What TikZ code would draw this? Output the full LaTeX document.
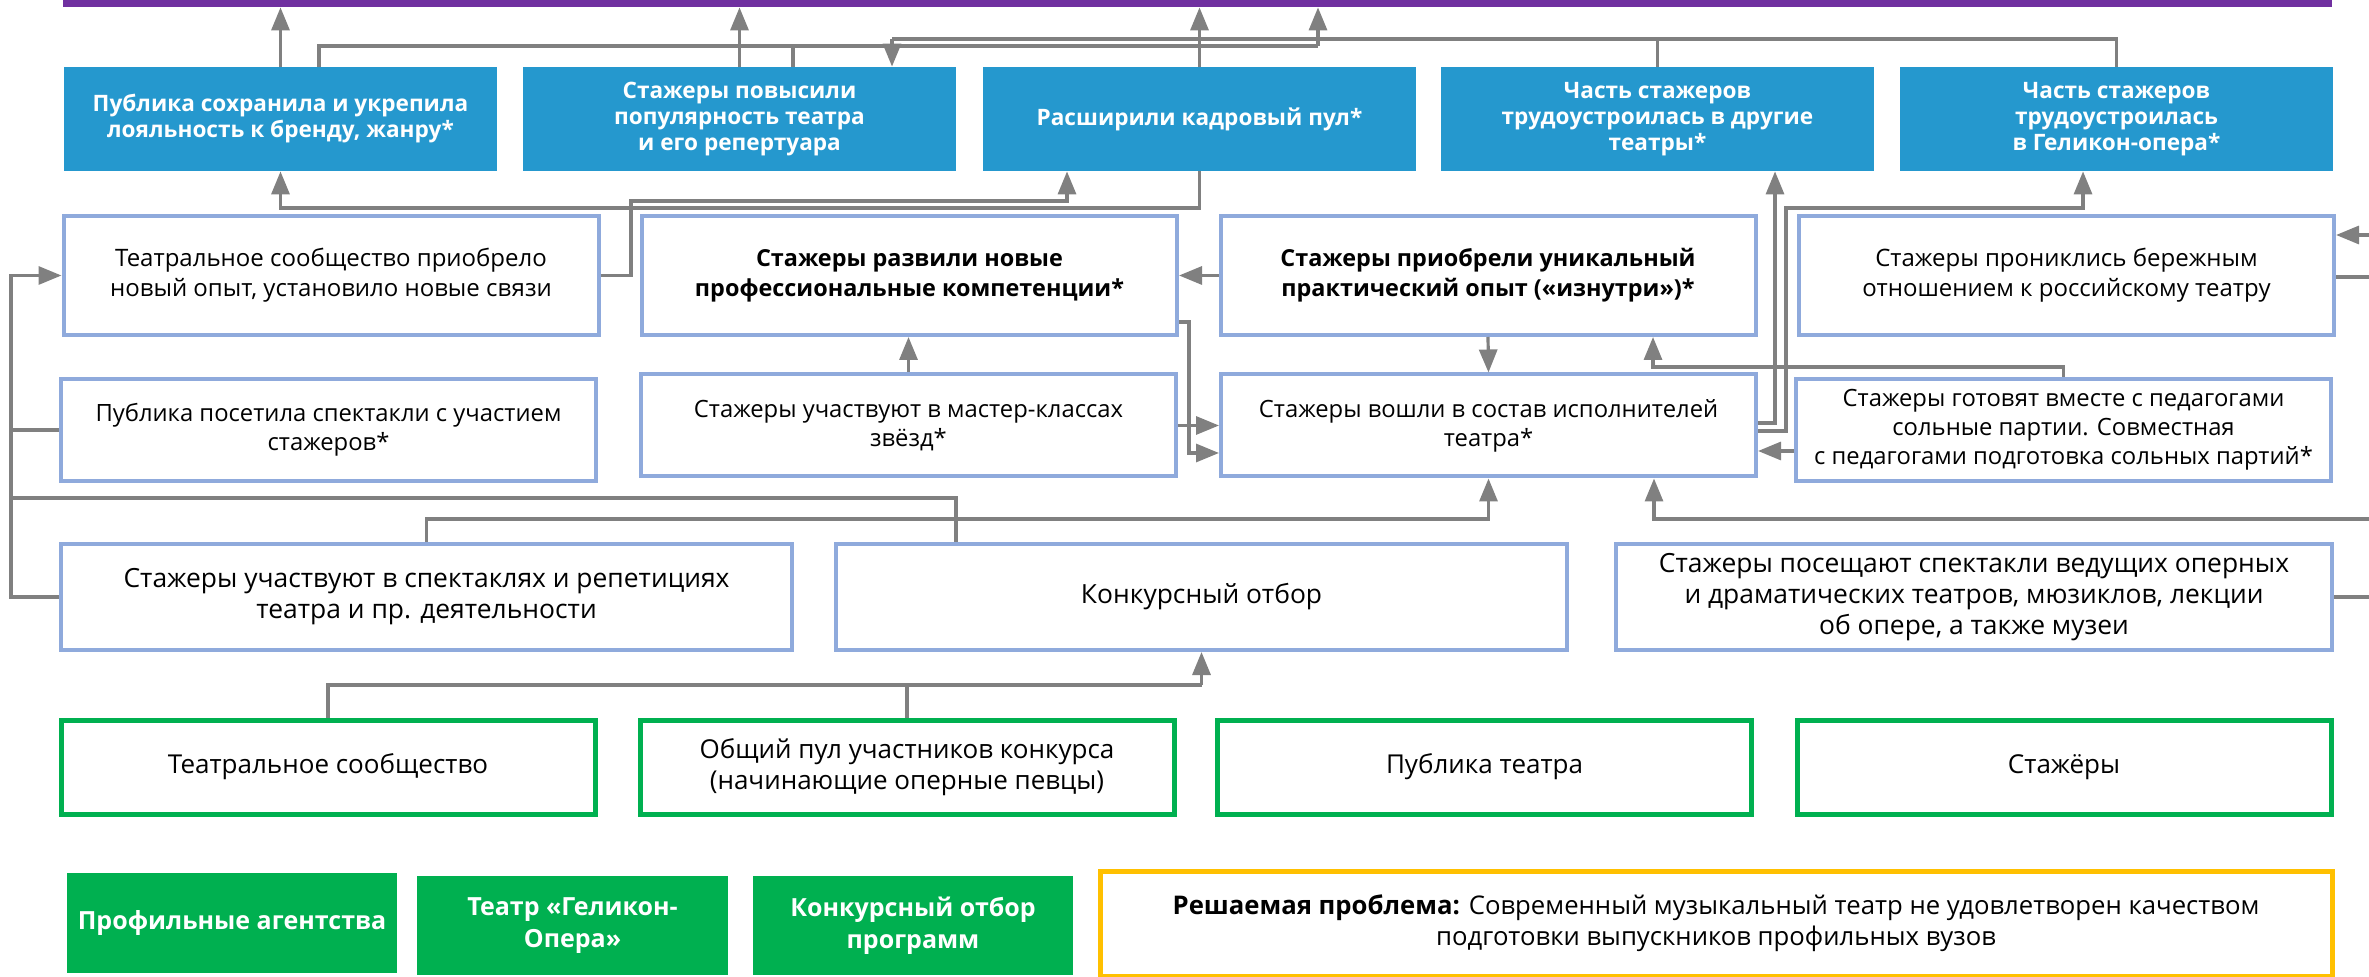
\documentclass[tikz,border=0pt]{standalone}
\usepackage{fontspec}
\setmainfont{Open Sans}
\usetikzlibrary{arrows.meta}
\definecolor{purp}{HTML}{7030A0}
\definecolor{bluef}{HTML}{2598CE}
\definecolor{blueb}{HTML}{8FAADC}
\definecolor{greenc}{HTML}{00B050}
\definecolor{yel}{HTML}{FFC000}
\definecolor{arr}{HTML}{808080}
\tikzset{
  bbox/.style={fill=bluef, text=white, font=\fontsize{11.3}{13}\selectfont\bfseries, align=center,
     minimum width=216.5pt, minimum height=52pt, inner sep=0pt},
  obox/.style={draw=blueb, line width=2pt, fill=white, align=center, inner sep=0pt,
     font=\fontsize{12}{15}\selectfont},
  gbox/.style={draw=greenc, line width=2.5pt, fill=white, align=center, inner sep=0pt,
     minimum width=267pt, minimum height=47pt, font=\fontsize{13}{15.5}\selectfont},
  gfill/.style={fill=greenc, text=white, align=center, inner sep=0pt,
     font=\fontsize{12.5}{16}\selectfont\bfseries},
  link/.style={draw=arr, line width=1.6pt},
  arrow/.style={link, -{Triangle[length=11.5pt,width=9pt]}},
}
\begin{document}
\begin{tikzpicture}[x=0.5pt,y=-0.5pt]
\useasboundingbox (0,0) rectangle (2369,977);
% goal bar
\node[fill=purp, minimum width=1134.5pt, minimum height=3.5pt, inner sep=0pt] (goal) at (1197.5,3.5) {};
% blue results
\node[bbox] (b1) at (280.5,119) {Публика сохранила и укрепила\\лояльность к бренду, жанру*};
\node[bbox] (b2) at (739.5,119) {Стажеры повысили\\популярность театра\\и его репертуара};
\node[bbox] (b3) at (1199.5,119) {Расширили кадровый пул*};
\node[bbox] (b4) at (1657.5,119) {Часть стажеров\\трудоустроилась в другие\\театры*};
\node[bbox] (b5) at (2116.5,119) {Часть стажеров\\трудоустроилась\\в Геликон-опера*};
% row 2
\tikzset{r2/.style={obox, minimum width=267.5pt, minimum height=59.5pt}}
\node[r2] (r2a) at (331,275.5) {Театральное сообщество приобрело\\новый опыт, установило новые связи};
\node[r2, font=\fontsize{11.7}{15}\selectfont\bfseries] (r2b) at (909.5,275.5) {Стажеры развили новые\\профессиональные компетенции*};
\node[r2, font=\fontsize{11.7}{15}\selectfont\bfseries] (r2c) at (1488,275.5) {Стажеры приобрели уникальный\\практический опыт («изнутри»)*};
\node[r2] (r2d) at (2066.5,275.5) {Стажеры прониклись бережным\\отношением к российскому театру};
% row 3
\tikzset{r3/.style={obox, minimum width=267.5pt, minimum height=51pt, font=\fontsize{11.9}{14.5}\selectfont}}
\node[r3] (r3a) at (328.5,430) {Публика посетила спектакли с участием\\стажеров*};
\node[r3] (r3b) at (908.5,425.5) {Стажеры участвуют в мастер-классах\\звёзд*};
\node[r3] (r3c) at (1488.5,425.5) {Стажеры вошли в состав исполнителей\\театра*};
\node[r3] (r3d) at (2063.5,430) {Стажеры готовят вместе с педагогами\\сольные партии. Совместная\\с педагогами подготовка сольных партий*};
% row 4
\tikzset{r4/.style={obox, minimum height=53pt, font=\fontsize{13.2}{15.5}\selectfont}}
\node[r4, minimum width=365.5pt] (r4a) at (426.5,597) {Стажеры участвуют в спектаклях и репетициях\\театра и пр. деятельности};
\node[r4, minimum width=365.5pt] (r4b) at (1201.5,597) {Конкурсный отбор};
\node[r4, minimum width=358pt] (r4c) at (1974,597) {Стажеры посещают спектакли ведущих оперных\\и драматических театров, мюзиклов, лекции\\об опере, а также музеи};
% row 5
\node[gbox] (r5a) at (328,767) {Театральное сообщество};
\node[gbox] (r5b) at (907,767) {Общий пул участников конкурса\\(начинающие оперные певцы)};
\node[gbox] (r5c) at (1484.5,767) {Публика театра};
\node[gbox] (r5d) at (2064,767) {Стажёры};
% row 6
\node[gfill, minimum width=165pt, minimum height=50pt] (g1) at (232,923) {Профильные агентства};
\node[gfill, minimum width=155.5pt, minimum height=49.5pt] (g2) at (572.5,925.5) {Театр «Геликон-\\Опера»};
\node[gfill, minimum width=160pt, minimum height=49.5pt] (g3) at (913,925.5) {Конкурсный отбор\\программ};
\node[draw=yel, line width=2.5pt, fill=white, align=center, inner sep=0pt, minimum width=616pt, minimum height=52.5pt,
  font=\fontsize{12.85}{15.5}\selectfont] (yb) at (1716,923.5)
  {\textbf{Решаемая проблема:} Современный музыкальный театр не удовлетворен качеством\\подготовки выпускников профильных вузов};
% helper coordinates
\coordinate (jA) at (1318,46);
\coordinate (jB) at (892,39);
\coordinate (h208) at (0,208);
\coordinate (k1) at (631,201);
\coordinate (L) at (11,0);
\coordinate (h498) at (0,498);
\coordinate (h519) at (0,519);
\coordinate (h453) at (0,453);
\coordinate (h367) at (0,367);
\coordinate (h451) at (0,451);
\coordinate (h423) at (0,423);
\coordinate (h431) at (0,431);
\coordinate (h685) at (0,685);
\coordinate (v1189) at (1189,0);
\coordinate (x1653) at (1653,0);
\coordinate (x1775) at (1775,0);
\coordinate (x1786) at (1786,0);
\coordinate (x2083) at (2083,0);
\coordinate (E1) at (2369,519);
\coordinate (E2) at (2369,235);
\coordinate (E3) at (2369,277);
\coordinate (E4) at (2369,597);
\coordinate (b1t) at ([xshift=19.25pt]b1.north);
\coordinate (b2t) at ([xshift=26.75pt]b2.north);
\coordinate (b3s) at ([xshift=-66.25pt]b3.south);
\coordinate (r4bt) at ([xshift=-122.75pt]r4b.north);
\coordinate (r3cs) at ([xshift=82.75pt]r3c.south);
\coordinate (r2bp) at ([yshift=7.5pt]r2b.south east);
% connectors top
\draw[arrow] (b1.north) -- (b1.north |- goal.south);
\draw[arrow] (b2.north) -- (b2.north |- goal.south);
\draw[arrow] (b3.north) -- (b3.north |- goal.south);
\draw[link] (b1t) |- (jA);
\draw[link] (b2t) -- (b2t |- jA);
\draw[arrow] (jA) -- (jA |- goal.south);
\draw[link] (b5.north) |- (jB);
\draw[link] (b4.north) -- (b4.north |- jB);
\draw[arrow] (jB) -- (jB |- b2.north);
% between rows 1 and 2
\draw[arrow] (b3.south) -- (b3.south |- h208) -| (b1.south);
\draw[arrow] (r2a.east) -| (k1) -| (b3s);
% left bus
\draw[arrow] (r4a.west) -- (L |- r4a.west) -- (L |- r2a.west) -- (r2a.west);
\draw[link] (r3a.west) -- (L |- r3a.west);
\draw[link] (r4bt) -- (r4bt |- h498) -- (L |- h498);
% middle
\draw[arrow] (r4a.north) -- (r4a.north |- h519) -| (r3c.south);
\draw[arrow] (E1) -| (r3cs);
\draw[arrow] (r2c.west) -- (r2b.east);
\draw[arrow] (r2bp) -- (r2bp -| v1189) -- (v1189 |- h453) -- (r3c.west |- h453);
\draw[arrow] (r3b.east) -- (r3c.west |- r3b.east);
\draw[arrow] (r3b.north) -- (r3b.north |- r2b.south);
\draw[arrow] (r2c.south) -- (r3c.north);
\draw[arrow] (r3d.north) -- (r3d.north |- h367) -- (x1653 |- h367) -- (x1653 |- r2c.south);
\draw[arrow] (r3d.west |- h451) -- (r3c.east |- h451);
\draw[arrow] (r3c.east |- h423) -| (x1775 |- b4.south);
\draw[arrow] (r3c.east |- h431) -| (x1786 |- h208) -| (x2083 |- b5.south);
% right edge
\draw[arrow] (E2) -- (r2d.east |- E2);
\draw[link] (r2d.east |- E3) -- (E3);
\draw[link] (r4c.east) -- (E4 |- r4c.east);
% bottom
\draw[link] (r5a.north) -- (r5a.north |- h685) -- (r4b.south |- h685);
\draw[link] (r5b.north) -- (r5b.north |- h685);
\draw[arrow] (r4b.south |- h685) -- (r4b.south);
\end{tikzpicture}
\end{document}
